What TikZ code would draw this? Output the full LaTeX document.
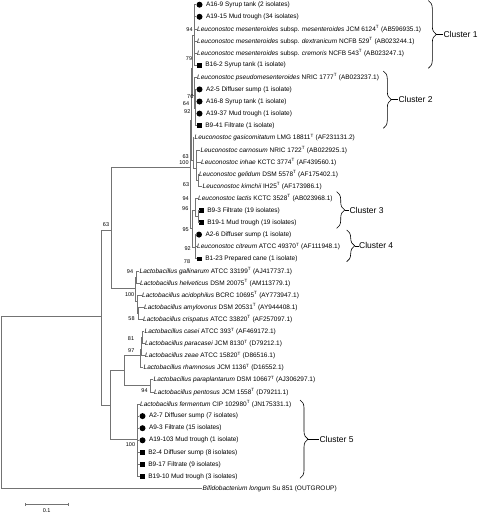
\documentclass[tikz,border=0pt]{standalone}
\usepackage{fontspec}
\setmainfont{Liberation Sans}
\usetikzlibrary{positioning,decorations.pathreplacing,arrows.meta}

\newcommand{\Ty}{\textsuperscript{T}}

\begin{document}
\begin{tikzpicture}[x=1pt, y=-1pt,
  branch/.style={draw=black!55, line width=0.75pt},
  tip/.style={anchor=west, inner sep=0.5pt, font=\fontsize{6.5}{7}\selectfont},
  marktxt/.style={right=2.6pt of #1, inner sep=0.5pt, font=\fontsize{6.5}{7}\selectfont},
  boot/.style={inner sep=0pt, font=\fontsize{5.5}{6}\selectfont},
  dotmark/.style={circle, fill=black, minimum size=6pt, inner sep=0pt},
  boxmark/.style={rectangle, fill=black, minimum size=4.6pt, inner sep=0pt},
  clbrace/.style={draw=black, line width=0.6pt, decorate, decoration={brace, amplitude=8pt}},
  cltext/.style={anchor=west, inner sep=0pt, font=\fontsize{8.5}{9}\selectfont}]

\useasboundingbox (0,0) rectangle (480,514);

% Leuconostoc tips
\node[dotmark] (m1) at (199.5,4.7) {};
\node[marktxt=m1] (t1) {A16-9 Syrup tank (2 isolates)};
\node[dotmark] (m2) at (199.5,16.8) {};
\node[marktxt=m2] (t2) {A19-15 Mud trough (34 isolates)};
\node[tip] (t3) at (196.5,28.9) {\textit{Leuconostoc mesenteroides} subsp. \textit{mesenteroides} JCM 6124\Ty{} (AB596935.1)};
\node[tip] (t4) at (196.5,41.0) {\textit{Leuconostoc mesenteroides} subsp. \textit{dextranicum} NCFB 529\Ty{} (AB023244.1)};
\node[tip] (t5) at (196.5,53.1) {\textit{Leuconostoc mesenteroides} subsp. \textit{cremoris} NCFB 543\Ty{} (AB023247.1)};
\node[boxmark] (m6) at (199.5,65.2) {};
\node[marktxt=m6] (t6) {B16-2 Syrup tank (1 isolate)};
\node[tip] (t7) at (196.5,77.3) {\textit{Leuconostoc pseudomesenteroides} NRIC 1777\Ty{} (AB023237.1)};
\node[dotmark] (m8) at (199.5,89.4) {};
\node[marktxt=m8] (t8) {A2-5 Diffuser sump (1 isolate)};
\node[dotmark] (m9) at (199.5,101.5) {};
\node[marktxt=m9] (t9) {A16-8 Syrup tank (1 isolate)};
\node[dotmark] (m10) at (199.5,113.6) {};
\node[marktxt=m10] (t10) {A19-37 Mud trough (1 isolate)};
\node[boxmark] (m11) at (199.5,125.7) {};
\node[marktxt=m11] (t11) {B9-41 Filtrate (1 isolate)};
\node[tip] (t12) at (194,137.8) {\textit{Leuconostoc gasicomitatum} LMG 18811\Ty{} (AF231131.2)};
\node[tip] (t13) at (200,149.9) {\textit{Leuconostoc carnosum} NRIC 1722\Ty{} (AB022925.1)};
\node[tip] (t14) at (200.5,162.0) {\textit{Leuconostoc inhae} KCTC 3774\Ty{} (AF439560.1)};
\node[tip] (t15) at (198.5,174.1) {\textit{Leuconostoc gelidum} DSM 5578\Ty{} (AF175402.1)};
\node[tip] (t16) at (202,186.2) {\textit{Leuconostoc kimchii} IH25\Ty{} (AF173986.1)};
\node[tip] (t17) at (197.5,198.3) {\textit{Leuconostoc lactis} KCTC 3528\Ty{} (AB023968.1)};
\node[boxmark] (m18) at (201.5,210.4) {};
\node[marktxt=m18] (t18) {B9-3 Filtrate (19 isolates)};
\node[boxmark] (m19) at (201.5,222.5) {};
\node[marktxt=m19] (t19) {B19-1 Mud trough (19 isolates)};
\node[dotmark] (m20) at (199,234.6) {};
\node[marktxt=m20] (t20) {A2-6 Diffuser sump (1 isolate)};
\node[tip] (t21) at (196.5,246.7) {\textit{Leuconostoc citreum} ATCC 49370\Ty{} (AF111948.1)};
\node[boxmark] (m22) at (199.5,258.8) {};
\node[marktxt=m22] (t22) {B1-23 Prepared cane (1 isolate)};

% Lactobacillus tips
\node[tip] (t23) at (139,270.9) {\textit{Lactobacillus gallinarum} ATCC 33199\Ty{} (AJ417737.1)};
\node[tip] (t24) at (139.5,283.0) {\textit{Lactobacillus helveticus} DSM 20075\Ty{} (AM113779.1)};
\node[tip] (t25) at (141.5,295.1) {\textit{Lactobacillus acidophilus} BCRC 10695\Ty{} (AY773947.1)};
\node[tip] (t26) at (143.5,307.2) {\textit{Lactobacillus amylovorus} DSM 20531\Ty{} (AY944408.1)};
\node[tip] (t27) at (142.5,319.3) {\textit{Lactobacillus crispatus} ATCC 33820\Ty{} (AF257097.1)};
\node[tip] (t28) at (144,331.4) {\textit{Lactobacillus casei} ATCC 393\Ty{} (AF469172.1)};
\node[tip] (t29) at (144.5,343.5) {\textit{Lactobacillus paracasei} JCM 8130\Ty{} (D79212.1)};
\node[tip] (t30) at (144.5,355.6) {\textit{Lactobacillus zeae} ATCC 15820\Ty{} (D86516.1)};
\node[tip] (t31) at (143,367.7) {\textit{Lactobacillus rhamnosus} JCM 1136\Ty{} (D16552.1)};
\node[tip] (t32) at (153,379.8) {\textit{Lactobacillus paraplantarum} DSM 10667\Ty{} (AJ306297.1)};
\node[tip] (t33) at (153.5,391.9) {\textit{Lactobacillus pentosus} JCM 1558\Ty{} (D79211.1)};
\node[tip] (t34) at (139.5,404.0) {\textit{Lactobacillus fermentum} CIP 102980\Ty{} (JN175331.1)};

% Outgroup
\node[tip] (t41) at (202,488.7) {\textit{Bifidobacterium longum} Su 851 (OUTGROUP)};

% Inner nodes
\coordinate (root) at (1,400);
\coordinate (na) at (101.7,316.7);
\coordinate (nb) at (111,230);
\coordinate (nf) at (110,405);
\coordinate (nlr) at (190.5,167);
\coordinate (nl123) at (191.5,120);
\coordinate (nl12) at (192.5,68);
\coordinate (nc1) at (194.5,35);
\coordinate (nc2) at (194,95);
\coordinate (nc2a) at (195.5,108);
\coordinate (nl3) at (193,160);
\coordinate (nl3a) at (196,168);
\coordinate (nl3b) at (198,180);
\coordinate (nl45) at (192.5,228);
\coordinate (nl4) at (195.5,210);
\coordinate (nl4a) at (198.5,216.5);
\coordinate (nl5) at (195.5,247);
\coordinate (ng) at (135.5,288.3);
\coordinate (ng1) at (136.5,277);
\coordinate (ng2) at (137,301);
\coordinate (ng3) at (138.5,313);
\coordinate (ncp) at (124.3,370);
\coordinate (ncs) at (140.5,355);
\coordinate (ncs1) at (141.5,349);
\coordinate (ncs2) at (142.5,337.5);
\coordinate (npp) at (150.7,385);
\coordinate (nfc) at (137.3,439.5);

% Backbone
\draw[branch] (root) |- (na);
\draw[branch] (root) |- (t41.west);
\draw[branch] (na) |- (nb);
\draw[branch] (na) |- (nf);
\draw[branch] (nb) |- (nlr);
\draw[branch] (nb) |- (ng);
\draw[branch] (nf) |- (ncp);
\draw[branch] (nf) |- (nfc);

% Leuconostoc clade
\draw[branch] (nlr) |- (nl123);
\draw[branch] (nlr) |- (nl45);
\draw[branch] (nl123) |- (nl12);
\draw[branch] (nl123) |- (nl3);
\draw[branch] (nl12) |- (nc1);
\draw[branch] (nl12) |- (nc2);
\draw[branch] (nc1) |- (m1.west);
\draw[branch] (nc1) |- (m2.west);
\draw[branch] (nc1) |- (t3.west);
\draw[branch] (nc1) |- (t4.west);
\draw[branch] (nc1) |- (t5.west);
\draw[branch] (nc1) |- (m6.west);
\draw[branch] (nc2) |- (t7.west);
\draw[branch] (nc2) |- (nc2a);
\draw[branch] (nc2a) |- (m8.west);
\draw[branch] (nc2a) |- (m9.west);
\draw[branch] (nc2a) |- (m10.west);
\draw[branch] (nc2a) |- (m11.west);
\draw[branch] (nl3) |- (t12.west);
\draw[branch] (nl3) |- (nl3a);
\draw[branch] (nl3a) |- (t13.west);
\draw[branch] (nl3a) |- (t14.west);
\draw[branch] (nl3a) |- (nl3b);
\draw[branch] (nl3b) |- (t15.west);
\draw[branch] (nl3b) |- (t16.west);
\draw[branch] (nl45) |- (nl4);
\draw[branch] (nl45) |- (nl5);
\draw[branch] (nl4) |- (t17.west);
\draw[branch] (nl4) |- (nl4a);
\draw[branch] (nl4a) |- (m18.west);
\draw[branch] (nl4a) |- (m19.west);
\draw[branch] (nl5) |- (m20.west);
\draw[branch] (nl5) |- (t21.west);
\draw[branch] (nl5) |- (m22.west);

% Lactobacillus clades
\draw[branch] (ng) |- (ng1);
\draw[branch] (ng) |- (ng2);
\draw[branch] (ng1) |- (t23.west);
\draw[branch] (ng1) |- (t24.west);
\draw[branch] (ng2) |- (t25.west);
\draw[branch] (ng2) |- (ng3);
\draw[branch] (ng3) |- (t26.west);
\draw[branch] (ng3) |- (t27.west);
\draw[branch] (ncp) |- (ncs);
\draw[branch] (ncp) |- (npp);
\draw[branch] (ncs) |- (ncs1);
\draw[branch] (ncs) |- (t31.west);
\draw[branch] (ncs1) |- (ncs2);
\draw[branch] (ncs1) |- (t30.west);
\draw[branch] (ncs2) |- (t28.west);
\draw[branch] (ncs2) |- (t29.west);
\draw[branch] (npp) |- (t32.west);
\draw[branch] (npp) |- (t33.west);
\draw[branch] (nfc) |- (t34.west);

% Fermentum isolates
\foreach \n/\y/\mk/\txt in {35/416.1/dotmark/A2-7 Diffuser sump (7 isolates),
    36/428.2/dotmark/A9-3 Filtrate (15 isolates),
    37/440.3/dotmark/A19-103 Mud trough (1 isolate),
    38/452.4/boxmark/B2-4 Diffuser sump (8 isolates),
    39/464.5/boxmark/B9-17 Filtrate (9 isolates),
    40/476.6/boxmark/B19-10 Mud trough (3 isolates)} {
  \node[\mk] (m\n) at (142.5,\y) {};
  \node[marktxt=m\n] (t\n) {\txt};
  \draw[branch] (nfc) |- (m\n.west);
}

% Bootstrap values
\foreach \x/\y/\v [count=\i] in {189.5/30/94, 189/58.3/79, 190.3/96.7/76, 186/104/64,
    187.3/111.7/92, 185.7/157/63, 184/162.7/100, 186/185/63, 185.7/199/94,
    185.3/209/96, 185.7/230/95, 187.7/249/92, 187/261.7/78, 106/224.3/63,
    130/271.7/94, 129.7/294.3/100, 131.5/318.7/58, 131/339/81, 131.3/351/97,
    144.5/390.7/94, 130.5/445/100} {
  \node[boot] (bs\i) at (\x,\y) {\v};
}

% Clusters
\draw[clbrace] (428.3,0.5) -- (428.3,68.3);
\coordinate (cb1) at (436.3,34.4);
\node[cltext] (cl1) at (443.3,34.4) {Cluster 1};
\draw[line width=0.6pt] (cb1) -- (cl1.west);

\draw[clbrace] (383.3,71) -- (383.3,128.3);
\coordinate (cb2) at (391.3,99.7);
\node[cltext] (cl2) at (398.3,99.7) {Cluster 2};
\draw[line width=0.6pt] (cb2) -- (cl2.west);

\draw[clbrace] (336.7,191.7) -- (336.7,228.3);
\coordinate (cb3) at (344.7,210);
\node[cltext] (cl3) at (349.3,210) {Cluster 3};
\draw[line width=0.6pt] (cb3) -- (cl3.west);

\draw[clbrace] (346.7,230) -- (346.7,261.7);
\coordinate (cb4) at (354.7,245.9);
\node[cltext] (cl4) at (359,245.9) {Cluster 4};
\draw[line width=0.6pt] (cb4) -- (cl4.west);

\draw[clbrace] (300,400) -- (300,478.3);
\coordinate (cb5) at (308,439.2);
\node[cltext] (cl5) at (319.3,439.2) {Cluster 5};
\draw[line width=0.6pt] (cb5) -- (cl5.west);

% Scale bar
\coordinate (sbl) at (25,504.3);
\coordinate (sbr) at (68.3,504.3);
\draw[branch, {Bar[width=3.5pt]}-{Bar[width=3.5pt]}] (sbl) -- (sbr);
\node[boot] (sbt) at (46.7,510.5) {0.1};

\end{tikzpicture}
\end{document}
